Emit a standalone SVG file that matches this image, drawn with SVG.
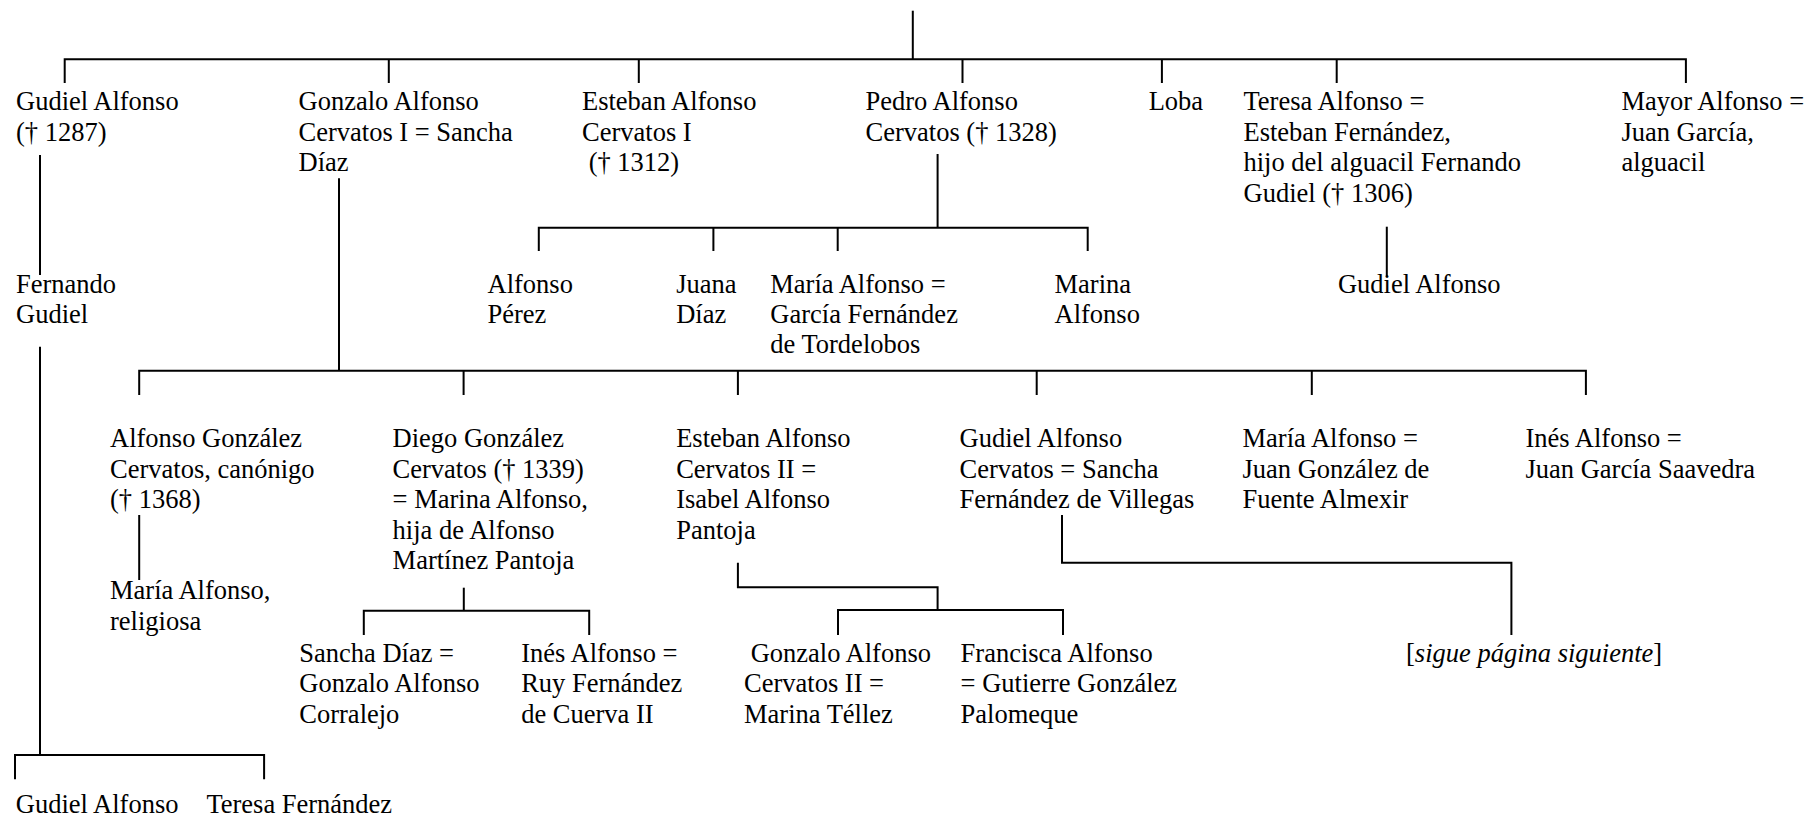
<svg xmlns="http://www.w3.org/2000/svg" width="1809" height="818" viewBox="0 0 1809 818">
<style>
text{font-family:"Liberation Serif","Times New Roman",serif;font-size:26.5px;fill:#000}
.c path,.c line{stroke:#000;stroke-width:2;fill:none}
.i{font-style:italic}
</style>
<rect width="1809" height="818" fill="#fff"/>
<g class="c" id="connectors">
<path d="M912.8 10.7V59.3"/>
<path d="M64.7 83V59.3H1685.9V83"/>
<path d="M388.8 59.3V83M638.8 59.3V83M962.5 59.3V83M1161.9 59.3V83M1336.7 59.3V83"/>
<path d="M40 155V275"/>
<path d="M40 346.7V755"/>
<path d="M15 779.3V755H264.1V779.3"/>
<path d="M339 178.3V370.7"/>
<path d="M139.2 395V370.7H1585.9V395"/>
<path d="M463.6 370.7V395M737.9 370.7V395M1036.7 370.7V395M1311.8 370.7V395"/>
<path d="M937.6 154V227.7"/>
<path d="M538.8 251V227.7H1087.7V251"/>
<path d="M713.4 227.7V251M837.7 227.7V251"/>
<path d="M1386.8 226.7V276.7"/>
<path d="M139.2 515V580"/>
<path d="M463.8 587.7V610.7"/>
<path d="M363.8 635V610.7H589.2V635"/>
<path d="M737.9 562.7V587.3H937.6V610"/>
<path d="M838 635V610H1063V635"/>
<path d="M1062 515V562.7H1511.4V635"/>
</g>
<g id="n-gudiel-1287"><text x="16" y="110">Gudiel Alfonso</text><text x="16" y="140.5">(† 1287)</text></g>
<g id="n-gonzalo-cervatos-i"><text x="298.5" y="110">Gonzalo Alfonso</text><text x="298.5" y="140.5">Cervatos I = Sancha</text><text x="298.5" y="171">Díaz</text></g>
<g id="n-esteban-cervatos-i"><text x="582" y="110">Esteban Alfonso</text><text x="582" y="140.5">Cervatos I</text><text x="582" y="171" xml:space="preserve"> († 1312)</text></g>
<g id="n-pedro"><text x="865.5" y="110">Pedro Alfonso</text><text x="865.5" y="140.5">Cervatos († 1328)</text></g>
<g id="n-loba"><text x="1148.7" y="110">Loba</text></g>
<g id="n-teresa"><text x="1243.5" y="110">Teresa Alfonso =</text><text x="1243.5" y="140.5">Esteban Fernández,</text><text x="1243.5" y="171">hijo del alguacil Fernando</text><text x="1243.5" y="201.5">Gudiel († 1306)</text></g>
<g id="n-mayor"><text x="1621.4" y="110">Mayor Alfonso =</text><text x="1621.4" y="140.5">Juan García,</text><text x="1621.4" y="171">alguacil</text></g>
<g id="n-fernando-gudiel"><text x="16" y="293.3">Fernando</text><text x="16" y="323.3">Gudiel</text></g>
<g id="n-alfonso-perez"><text x="487.5" y="293.3">Alfonso</text><text x="487.5" y="323.3">Pérez</text></g>
<g id="n-juana"><text x="676.2" y="293.3">Juana</text><text x="676.2" y="323.3">Díaz</text></g>
<g id="n-maria-tordelobos"><text x="770.3" y="293.3">María Alfonso =</text><text x="770.3" y="323.3">García Fernández</text><text x="770.3" y="353.3">de Tordelobos</text></g>
<g id="n-marina"><text x="1054.5" y="293.3">Marina</text><text x="1054.5" y="323.3">Alfonso</text></g>
<g id="n-gudiel-teresa-son"><text x="1337.9" y="293.3">Gudiel Alfonso</text></g>
<g id="n-alfonso-gonzalez"><text x="110" y="447">Alfonso González</text><text x="110" y="477.5">Cervatos, canónigo</text><text x="110" y="508">(† 1368)</text></g>
<g id="n-diego"><text x="392.6" y="447">Diego González</text><text x="392.6" y="477.5">Cervatos († 1339)</text><text x="392.6" y="508">= Marina Alfonso,</text><text x="392.6" y="538.5">hija de Alfonso</text><text x="392.6" y="569">Martínez Pantoja</text></g>
<g id="n-esteban-cervatos-ii"><text x="676.2" y="447">Esteban Alfonso</text><text x="676.2" y="477.5">Cervatos II =</text><text x="676.2" y="508">Isabel Alfonso</text><text x="676.2" y="538.5">Pantoja</text></g>
<g id="n-gudiel-cervatos"><text x="959.5" y="447">Gudiel Alfonso</text><text x="959.5" y="477.5">Cervatos = Sancha</text><text x="959.5" y="508">Fernández de Villegas</text></g>
<g id="n-maria-almexir"><text x="1242.5" y="447">María Alfonso =</text><text x="1242.5" y="477.5">Juan González de</text><text x="1242.5" y="508">Fuente Almexir</text></g>
<g id="n-ines-saavedra"><text x="1525.5" y="447">Inés Alfonso =</text><text x="1525.5" y="477.5">Juan García Saavedra</text></g>
<g id="n-maria-religiosa"><text x="110" y="599.3">María Alfonso,</text><text x="110" y="630">religiosa</text></g>
<g id="n-sancha-diaz"><text x="299.3" y="661.5">Sancha Díaz =</text><text x="299.3" y="692">Gonzalo Alfonso</text><text x="299.3" y="722.5">Corralejo</text></g>
<g id="n-ines-cuerva"><text x="521.2" y="661.5">Inés Alfonso =</text><text x="521.2" y="692">Ruy Fernández</text><text x="521.2" y="722.5">de Cuerva II</text></g>
<g id="n-gonzalo-cervatos-ii"><text x="744" y="661.5" xml:space="preserve"> Gonzalo Alfonso</text><text x="744" y="692">Cervatos II =</text><text x="744" y="722.5">Marina Téllez</text></g>
<g id="n-francisca"><text x="960.6" y="661.5">Francisca Alfonso</text><text x="960.6" y="692">= Gutierre González</text><text x="960.6" y="722.5">Palomeque</text></g>
<g id="n-sigue"><text x="1406" y="661.5">[<tspan class="i">sigue página siguiente</tspan>]</text></g>
<g id="n-gudiel-bottom"><text x="15.8" y="813">Gudiel Alfonso</text></g>
<g id="n-teresa-fernandez"><text x="206.4" y="813">Teresa Fernández</text></g>
</svg>
